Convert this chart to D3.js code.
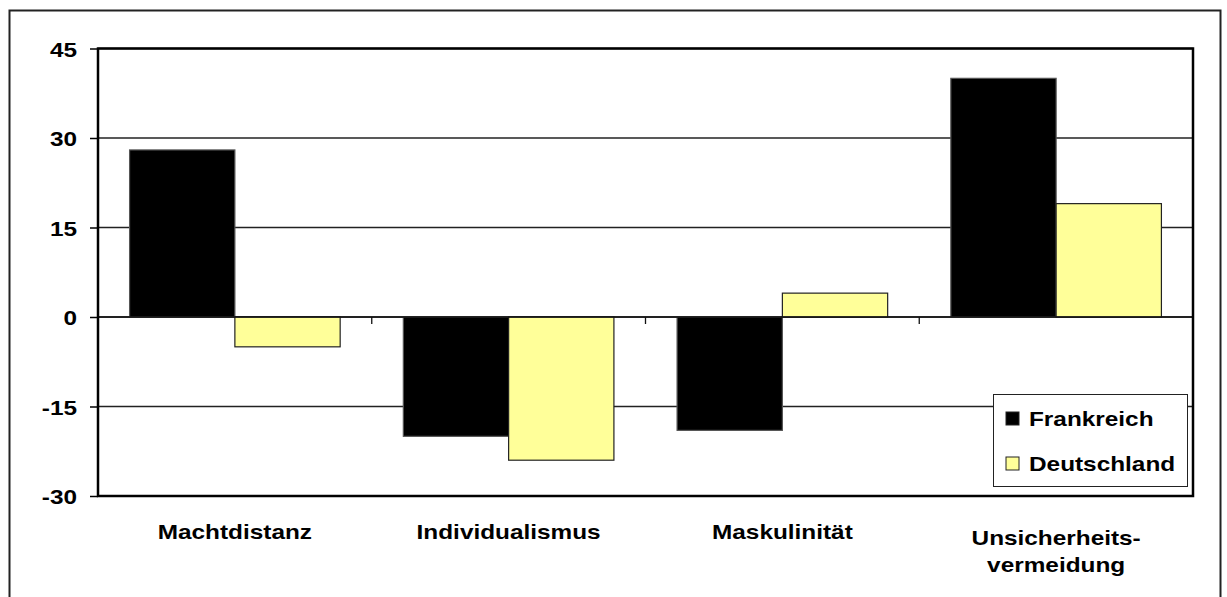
<!DOCTYPE html>
<html>
<head>
<meta charset="utf-8">
<script src="https://cdn.jsdelivr.net/npm/d3@7"></script>
<style>
  html, body { margin: 0; padding: 0; background: #fff; }
  svg { display: block; }
  text { font-family: "Liberation Sans", Arial, sans-serif; font-weight: bold; fill: #000; }
</style>
</head>
<body>
<svg id="chart" width="1227" height="597"></svg>
<script>
// Hofstede-Dimensionen: Abweichung Frankreich / Deutschland
const categories = [["Machtdistanz"], ["Individualismus"], ["Maskulinität"], ["Unsicherheits-", "vermeidung"]];
const seriesNames = ["Frankreich", "Deutschland"];
const frankreich = [28, -20, -19, 40];
const deutschland = [-5, -24, 4, 19];
const yTicks = [-30, -15, 0, 15, 30, 45];
const colors = ["#000000", "#FFFF99"];
const strokes = ["#555555", "#222222"];

const svg = d3.select("#chart");
const plot = { left: 98, right: 1193, top: 48.5, bottom: 496 };
const sx = 1.16; // horizontal text stretch
const fontSize = 21;

// outer frame
svg.append("rect")
  .attr("x", 9.5).attr("y", 10.5).attr("width", 1211).attr("height", 620)
  .attr("fill", "none").attr("stroke", "#222").attr("stroke-width", 2);

const y = d3.scaleLinear().domain([-30, 45]).range([plot.bottom, plot.top]);
const x0 = d3.scaleBand().domain(d3.range(categories.length)).range([plot.left, plot.right]).paddingInner(0).paddingOuter(0);
const barW = x0.bandwidth() / 2.6;
const x1 = d3.scaleBand().domain(d3.range(seriesNames.length))
  .range([0, barW * 2]);

// gridlines
svg.append("g").selectAll("line").data(yTicks).join("line")
  .attr("x1", plot.left).attr("x2", plot.right)
  .attr("y1", d => y(d)).attr("y2", d => y(d))
  .attr("stroke", "#222").attr("stroke-width", 1.3);

// bars
const series = [frankreich, deutschland];
const groups = svg.append("g");
series.forEach((vals, si) => {
  groups.append("g").selectAll("rect").data(vals).join("rect")
    .attr("x", (d, i) => x0(i) + (x0.bandwidth() - barW * 2) / 2 + x1(si))
    .attr("width", barW)
    .attr("y", d => y(Math.max(0, d)))
    .attr("height", d => Math.abs(y(d) - y(0)))
    .attr("fill", colors[si])
    .attr("stroke", strokes[si]).attr("stroke-width", 1.2);
});

// zero line
svg.append("line")
  .attr("x1", plot.left).attr("x2", plot.right)
  .attr("y1", y(0)).attr("y2", y(0))
  .attr("stroke", "#111").attr("stroke-width", 1.3);

// category ticks on the zero line
svg.append("g").selectAll("line").data(d3.range(1, categories.length)).join("line")
  .attr("x1", d => x0(d)).attr("x2", d => x0(d))
  .attr("y1", y(0)).attr("y2", y(0) + 7)
  .attr("stroke", "#111").attr("stroke-width", 1.3);

// plot border
svg.append("rect")
  .attr("x", plot.left).attr("y", plot.top)
  .attr("width", plot.right - plot.left).attr("height", plot.bottom - plot.top)
  .attr("fill", "none").attr("stroke", "#000").attr("stroke-width", 2.5);

// y axis
const yAxis = d3.axisLeft(y).tickValues(yTicks).tickSize(8).tickPadding(12).tickFormat(d => String(d));
const ya = svg.append("g").attr("transform", `translate(${plot.left},0)`).call(yAxis);
ya.select(".domain").remove();
ya.selectAll(".tick line").attr("stroke", "#000").attr("stroke-width", 1.5);
ya.selectAll(".tick text")
  .attr("x", null).attr("dy", null)
  .style("font-size", fontSize + "px")
  .attr("text-anchor", "end")
  .attr("transform", `translate(-21,7.5) scale(${sx},1)`)
  .attr("fill", "#000");

// category labels
const catG = svg.append("g");
categories.forEach((lines, i) => {
  const cx = x0(i) + x0.bandwidth() / 2;
  const base = lines.length === 1 ? 539 : 545;
  lines.forEach((t, k) => {
    catG.append("text")
      .attr("transform", `translate(${cx},${base + k * 27}) scale(${sx},1)`)
      .attr("text-anchor", "middle")
      .style("font-size", fontSize + "px")
      .text(t);
  });
});

// legend
const lg = svg.append("g").attr("transform", "translate(993,394)");
lg.append("rect").attr("x", 0.5).attr("y", 0.5).attr("width", 194).attr("height", 92)
  .attr("fill", "#fff").attr("stroke", "#222").attr("stroke-width", 1);
seriesNames.forEach((n, i) => {
  const yy = 24 + i * 45;
  lg.append("rect").attr("x", 13).attr("y", yy - 6).attr("width", 13).attr("height", 13)
    .attr("fill", colors[i]).attr("stroke", "#222").attr("stroke-width", 1);
  lg.append("text")
    .attr("transform", `translate(36,${yy + 7.5}) scale(${sx},1)`)
    .style("font-size", fontSize + "px")
    .text(n);
});
</script>
</body>
</html>
